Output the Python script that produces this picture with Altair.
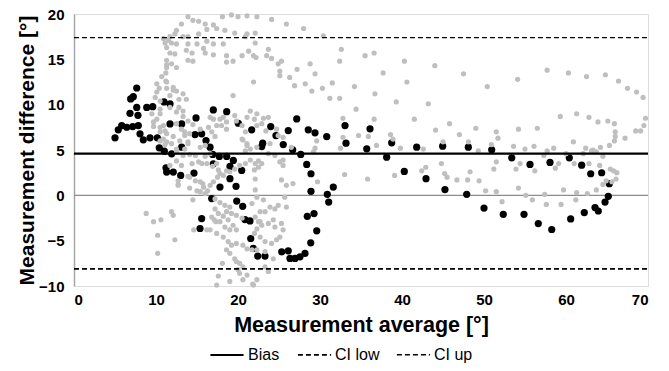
import altair as alt
import pandas as pd

# Black series (average, difference)
black_points = [
    (7.65, 11.84), (7.23, 10.88), (6.91, 10.63), (7.65, 9.70), (6.83, 9.04), (7.80, 8.82),
    (8.87, 9.70), (9.60, 9.78), (10.98, 10.30), (11.71, 10.08), (5.82, 7.69), (5.40, 7.22),
    (6.43, 7.51), (7.16, 7.58), (7.84, 7.69), (5.00, 6.34), (8.05, 6.78), (8.45, 6.12),
    (9.27, 6.34), (10.16, 6.34), (11.71, 7.88), (13.13, 7.88), (10.40, 5.24), (11.01, 4.87),
    (11.91, 4.58), (13.13, 5.31), (11.22, 3.04), (11.30, 2.56), (12.11, 2.56), (13.01, 2.20),
    (14.76, 6.70), (15.57, 6.78), (16.10, 6.04), (16.59, 5.31), (16.91, 4.51), (17.72, 4.29),
    (18.62, 4.29), (19.02, 3.19), (19.43, 3.85), (20.45, 2.75), (14.63, 2.45), (17.80, 0.91),
    (19.02, 1.84), (19.76, 0.99), (16.79, -0.36), (19.84, -0.63), (20.57, -1.21), (15.57, -2.56),
    (15.37, -3.66), (20.85, -2.67), (21.46, -2.82), (21.55, -4.76), (21.87, -5.86), (22.40, -6.70),
    (21.67, 7.22), (23.99, 7.58), (24.63, 6.59), (23.01, 5.75), (22.89, 5.38), (25.52, 5.60),
    (26.13, 7.14), (27.16, 8.43), (26.67, 5.02), (27.65, 4.51), (28.57, 7.22), (29.39, 6.89),
    (30.82, 6.48), (28.38, 3.41), (28.90, 2.38), (28.90, 0.44), (30.89, 0.11), (31.62, 0.91),
    (31.06, -0.74), (29.27, -2.01), (28.45, -2.31), (29.60, -3.92), (28.87, -5.24), (28.17, -6.41),
    (27.56, -6.78), (26.95, -6.96), (26.34, -6.96), (26.13, -6.12), (25.33, -6.23), (23.29, -6.70),
    (33.05, 7.69), (33.17, 5.75), (36.10, 7.33), (35.70, 5.13), (38.74, 5.79), (41.79, 5.31),
    (44.96, 5.42), (38.13, 4.21), (40.28, 2.64), (42.93, 1.84), (45.24, 0.63), (48.09, 5.31),
    (50.94, 5.02), (53.38, 4.14), (55.61, 3.41), (58.05, 3.63), (60.40, 4.14), (61.91, 3.33),
    (63.01, 2.38), (64.35, 2.49), (65.28, 1.29), (65.16, -0.11), (64.76, -0.74), (63.94, -1.73),
    (63.54, -1.35), (62.23, -1.90), (60.57, -2.60), (58.26, -3.77), (56.62, -3.11), (54.88, -2.09),
    (52.35, -2.09), (50.00, -1.40), (47.89, 0.11), (16.99, 9.42), (18.62, 9.23), (14.88, 8.54),
    (20.04, 7.95), (16.99, 3.48),
]

# Grey series (average, difference)
gray_points = [
    (13.9, 19.7), (14.5, 19.3), (15.2, 19.2), (16.0, 18.9), (17.0, 18.8), (17.4, 18.4), (16.2, 18.3),
    (18.1, 19.7), (19.2, 19.9), (20.0, 19.7), (21.1, 19.8), (22.3, 19.7), (18.4, 18.2), (19.6, 17.9),
    (21.1, 17.8), (13.1, 18.9), (12.5, 18.2), (12.3, 17.8), (11.7, 17.5), (11.5, 17.1), (10.9, 17.3),
    (11.1, 16.8), (11.9, 16.8), (12.5, 16.7), (13.3, 17.5), (13.9, 17.5), (15.2, 17.8), (13.9, 16.7),
    (15.0, 16.7), (15.8, 16.2), (16.2, 17.0), (17.0, 16.7), (18.2, 16.7), (11.3, 16.3), (11.7, 15.7),
    (12.3, 15.6), (13.7, 16.0), (14.4, 15.7), (16.0, 15.7), (17.0, 15.5), (20.5, 15.4), (18.6, 15.4),
    (21.9, 15.4), (11.3, 14.9), (11.9, 14.5), (11.3, 14.4), (11.3, 14.1), (12.5, 14.1), (13.9, 14.9),
    (14.5, 14.8), (18.6, 14.7), (19.4, 14.8), (11.2, 13.5), (10.7, 13.1), (11.2, 12.6), (10.1, 12.3),
    (10.4, 11.8), (10.1, 11.4), (9.9, 10.8), (10.5, 10.4), (11.3, 11.8), (12.1, 11.6), (11.7, 11.0),
    (19.4, 11.0), (21.9, 12.5), (10.5, 9.5), (11.7, 9.7), (9.5, 9.0), (10.1, 8.4), (9.7, 8.1),
    (12.5, 9.2), (13.3, 8.7), (13.9, 8.2), (14.5, 7.8), (15.4, 7.3), (16.4, 7.5), (17.0, 8.4),
    (18.2, 8.6), (19.6, 8.8), (21.1, 8.6), (21.5, 9.3), (22.3, 9.0), (10.9, 7.7), (10.5, 7.0),
    (11.3, 6.8), (12.1, 6.5), (12.9, 6.0), (13.9, 5.9), (10.5, 6.0), (11.1, 5.6), (17.4, 7.7),
    (18.0, 7.7), (18.6, 7.3), (20.5, 7.7), (20.9, 7.0), (20.5, 6.2), (21.1, 5.7),
    (24.1, 19.4), (25.9, 18.9), (28.0, 18.4), (30.4, 17.6), (22.1, 16.8), (23.7, 16.1), (22.2, 15.2),
    (23.5, 15.4), (24.1, 15.1), (32.6, 16.1), (35.5, 15.4), (36.6, 15.7), (32.4, 14.8), (24.9, 14.5),
    (25.3, 14.8), (25.1, 13.7), (25.1, 13.2), (27.2, 13.9), (28.8, 14.5), (29.4, 13.4), (26.3, 13.0),
    (26.9, 12.1), (28.2, 12.3), (29.0, 11.5), (30.3, 11.8), (31.5, 12.4), (31.2, 10.7), (32.4, 10.7),
    (34.2, 12.0), (34.4, 9.5), (36.7, 11.2), (37.7, 13.5), (40.3, 14.8), (40.6, 12.5), (39.3, 10.3),
    (43.2, 10.1), (44.0, 14.3), (41.5, 8.4), (44.1, 7.2), (45.8, 7.9), (36.6, 8.4), (32.8, 8.5),
    (32.8, 6.4), (34.7, 6.6), (35.9, 6.5), (36.9, 5.5), (38.6, 6.7), (38.9, 6.2), (39.8, 5.2),
    (42.6, 5.1), (45.0, 5.9), (29.6, 6.0), (29.4, 5.2), (32.5, 5.2), (22.0, 8.4), (23.1, 8.5),
    (23.7, 8.6), (22.3, 7.7), (22.9, 7.9), (23.4, 7.1), (24.7, 7.3), (25.5, 6.4), (24.9, 6.6),
    (23.9, 5.7), (26.5, 5.3),
    (33.0, 2.3), (35.8, 1.8), (29.7, 1.5), (26.7, 1.3), (29.2, 4.8), (22.1, 1.8), (22.1, 0.6),
    (22.0, 2.8), (22.5, 3.8), (22.9, 3.5), (25.1, 3.7), (25.5, 3.9), (25.7, -0.2), (23.1, -0.5),
    (25.9, -1.3), (23.9, -1.3), (24.5, -1.5), (24.9, -1.1), (25.3, 1.7), (25.9, 1.1),
    (23.7, 4.6), (24.5, 4.4), (25.5, 3.3), (22.3, -0.2), (21.7, -0.9), (22.7, -1.8), (23.3, -1.8),
    (22.1, -2.4), (22.7, -2.9), (22.9, -3.3), (22.3, -3.7), (23.7, -3.1), (24.3, -2.7), (24.5, -3.5),
    (25.3, -3.1), (25.5, -3.8), (25.1, -4.6), (24.7, -4.9), (24.1, -5.3), (23.3, -5.1), (22.7, -4.6),
    (22.0, -4.2), (23.3, -6.2), (22.3, -6.0), (24.3, -7.0), (23.7, -8.4), (23.3, -7.9), (22.3, -9.3),
    (21.9, -9.9), (39.1, 2.2), (42.4, 2.7), (42.9, 3.1), (44.8, 3.5), (45.2, 2.4), (45.5, 2.0),
    (47.5, 13.4), (50.4, 12.0), (54.1, 12.8), (57.7, 13.8), (60.3, 13.5), (62.5, 13.1), (64.8, 13.3),
    (66.4, 12.6), (67.5, 11.8), (68.6, 11.4), (69.4, 10.8), (59.3, 8.7), (61.3, 9.0), (62.8, 8.6),
    (63.9, 8.1), (65.1, 8.2), (65.9, 7.9), (66.0, 7.0), (66.0, 6.5), (65.9, 6.0), (67.2, 6.3),
    (68.5, 7.1), (69.1, 7.1), (69.5, 7.7), (69.7, 8.5), (47.0, 6.7), (49.0, 7.4), (51.5, 7.0),
    (51.7, 6.3), (54.2, 7.3), (56.5, 7.4), (48.1, 5.9), (50.9, 5.6), (53.6, 5.4), (55.0, 5.1),
    (56.1, 5.4), (57.7, 4.9), (58.5, 5.2), (60.9, 5.9), (62.4, 5.2), (63.3, 5.0), (64.2, 5.3),
    (65.3, 5.5),
    (49.3, 4.9), (51.5, 3.7), (51.2, 2.9), (54.4, 3.5), (53.9, 2.9), (56.2, 2.7), (57.3, 4.4),
    (58.7, 3.0), (59.1, 3.5), (60.0, 4.6), (61.0, 3.5), (62.1, 4.6), (63.1, 4.9), (63.7, 4.8),
    (64.5, 4.3), (62.8, 3.5), (64.1, 3.3), (65.4, 2.9), (65.8, 2.7), (66.2, 2.5), (66.1, 1.8),
    (65.6, 1.5), (64.9, 1.6), (64.5, 1.2), (63.7, 0.6), (62.6, 0.2), (61.3, 0.3), (61.2, -0.5),
    (59.7, 0.6), (59.4, -1.0), (57.6, -1.0), (57.4, 0.1), (55.9, -0.5), (55.1, 0.0), (54.2, 0.8),
    (52.2, -0.7), (51.5, 0.4), (50.2, 0.5), (49.4, 1.6), (48.3, 2.6), (48.0, 1.7), (46.7, 1.7),
    (8.8, -2.0), (9.7, -2.9), (10.6, -2.7), (11.9, -1.8), (12.1, -2.2), (10.2, -4.4), (12.3, -4.9),
    (10.2, -6.4), (12.7, 1.2), (14.5, -0.5), (14.6, -3.8), (16.2, -3.8), (17.1, -2.7), (17.6, -8.9),
    (17.4, -9.9), (18.1, -7.5), (20.2, -8.6), (20.6, -9.3), (21.8, -9.8), (13.9, 2.1),
    (10.9, 6.2), (11.3, 5.9), (11.9, 5.7), (12.5, 5.1), (13.5, 5.1), (13.9, 5.7), (15.4, 5.3),
    (16.0, 5.5), (17.2, 6.5), (13.5, 6.6), (16.8, 7.0), (20.6, 6.1), (21.1, 5.5), (21.5, 5.1),
    (22.3, 5.3), (20.9, 4.9), (14.1, 4.5), (14.8, 4.4), (16.0, 4.3), (16.6, 4.6), (15.2, 3.7),
    (15.6, 3.5), (14.4, 3.5), (16.2, 3.5), (17.4, 3.5), (16.9, 3.2), (17.6, 2.8), (17.8, 2.4),
    (18.6, 2.7), (19.6, 2.9), (20.2, 3.3), (20.9, 3.5), (21.5, 3.9), (22.1, 3.5), (22.5, 3.1),
    (12.7, 1.1), (14.1, 2.0), (14.8, 1.6), (15.4, 1.5), (15.8, 0.9), (16.3, 0.5), (16.6, 1.1),
    (17.0, 1.5), (17.5, 2.0), (18.2, 2.2), (19.0, 2.6), (14.1, 0.8), (15.0, 0.5), (15.4, 0.4),
    (16.0, 0.2), (15.7, 1.3), (17.2, -0.4), (17.8, -0.8), (18.4, -1.1), (19.0, -1.3), (18.6, -1.8),
    (19.2, -2.0), (19.8, -2.2), (20.5, -2.5), (22.5, -2.9), (17.2, -1.5), (17.6, -2.0), (18.2, -2.3),
    (18.8, -2.7), (19.4, -3.3), (19.8, -3.8), (19.0, -3.8), (18.4, -3.5), (17.8, -2.9), (16.8, -2.4),
    (17.3, -2.9), (16.6, -3.8), (17.4, -4.2), (18.2, -4.6), (18.8, -5.1), (19.2, -5.5), (19.8, -5.3),
    (20.6, -5.5), (21.1, -5.9), (21.7, -6.0), (18.6, -6.0), (19.0, -6.4), (19.6, -7.0), (20.2, -7.5),
    (20.6, -7.9), (21.1, -8.8), (20.0, -8.2), (19.0, -9.5), (19.8, -7.3),
    (11.7, 3.3), (12.5, 3.8), (10.5, 9.0), (9.7, 7.6), (10.5, 7.5), (11.1, 7.1), (12.5, 4.8),
    (13.3, 4.4), (13.1, 3.3), (12.7, 1.6), (11.3, 12.5), (12.1, 11.9), (12.5, 11.5), (13.3, 11.2),
    (13.7, 10.6), (21.3, 15.9), (22.1, 17.9), (20.9, 17.5), (12.8, 10.6), (12.8, 9.7), (13.3, 9.3),
    (16.6, 8.6), (17.8, 8.4), (18.6, 8.1), (19.8, 8.2), (12.5, 7.9), (13.1, 7.3), (13.5, 7.0),
    (14.1, 6.8),
]

ref_names = ["Bias", "CI low", "CI up"]
ref_values = [4.6, -8.1, 17.4]
x_ticks = [0, 10, 20, 30, 40, 50, 60, 70]
y_ticks = [-10, -5, 0, 5, 10, 15, 20]

black_df = pd.DataFrame(black_points, columns=["avg", "diff"])
gray_df = pd.DataFrame(gray_points, columns=["avg", "diff"])
ref_df = pd.DataFrame({"name": ref_names, "y": ref_values,
                       "x0": [x_ticks[0]] * 3, "x1": [x_ticks[-1]] * 3})
zero_df = pd.DataFrame({"y": [0], "x0": [x_ticks[0]], "x1": [x_ticks[-1]]})

FONT = "Liberation Sans"
xscale = alt.Scale(domain=[0, 70], nice=False, zero=False)
yscale = alt.Scale(domain=[-10, 20], nice=False)

x_axis = alt.Axis(values=x_ticks, title="Measurement average [°]", grid=False, domain=False,
                  ticks=False, labelFont=FONT, labelFontSize=15, labelFontWeight="bold",
                  labelColor="#000000", labelPadding=6, titleFont=FONT, titleFontSize=21.5,
                  titleFontWeight="bold", titleColor="#000000", titleY=39, titleBaseline="middle")
y_axis = alt.Axis(values=y_ticks, title="Measurement difference [°]", grid=False, domain=True,
                  domainColor="#a6a6a6", domainWidth=1.5, ticks=False, labelFont=FONT,
                  labelFontSize=15, labelFontWeight="bold", labelColor="#000000", labelPadding=10,
                  titleFont=FONT, titleFontSize=21, titleFontWeight="bold", titleColor="#000000",
                  titleX=-47, titleY=136, titleBaseline="middle")

base_x = alt.X("avg:Q", scale=xscale, axis=x_axis)
base_y = alt.Y("diff:Q", scale=yscale, axis=y_axis)

zero_rule = alt.Chart(zero_df).mark_rule(color="#8c8c8c", strokeWidth=1.3).encode(
    x=alt.X("x0:Q", scale=xscale, axis=x_axis), x2="x1:Q",
    y=alt.Y("y:Q", scale=yscale, axis=y_axis))

black = alt.Chart(black_df).mark_circle(color="#000000", opacity=1, size=52).encode(
    x=base_x, y=base_y)
gray = alt.Chart(gray_df).mark_circle(color="#bfbfbf", opacity=1, size=27).encode(
    x=base_x, y=base_y)

refs = alt.Chart(ref_df).mark_rule(color="#000000").encode(
    x=alt.X("x0:Q", scale=xscale, axis=x_axis), x2="x1:Q",
    y=alt.Y("y:Q", scale=yscale, axis=y_axis),
    strokeDash=alt.StrokeDash("name:N", scale=alt.Scale(domain=ref_names,
                              range=[[1, 0], [5, 3], [5, 3]]),
                              legend=alt.Legend(orient="none", legendX=135, legendY=323,
                                                direction="horizontal", title=None,
                                                symbolType="stroke", symbolSize=1100,
                                                symbolStrokeColor="#000000",
                                                symbolStrokeWidth=1.6, labelFont=FONT,
                                                labelFontSize=16, labelColor="#000000",
                                                labelOffset=3, columnPadding=14, padding=0)),
    strokeWidth=alt.StrokeWidth("name:N", scale=alt.Scale(domain=ref_names,
                                range=[2.2, 1.3, 1.3]), legend=None),
)

chart = alt.layer(zero_rule, black, gray, refs).properties(
    width=574, height=272,
    autosize=alt.AutoSizeParams(type="none"),
    padding={"left": 66, "top": 6, "right": 13, "bottom": 77},
).configure_view(stroke=None).configure(background="white")

chart.save("out.html", embed_options={"renderer": "svg", "actions": False})
